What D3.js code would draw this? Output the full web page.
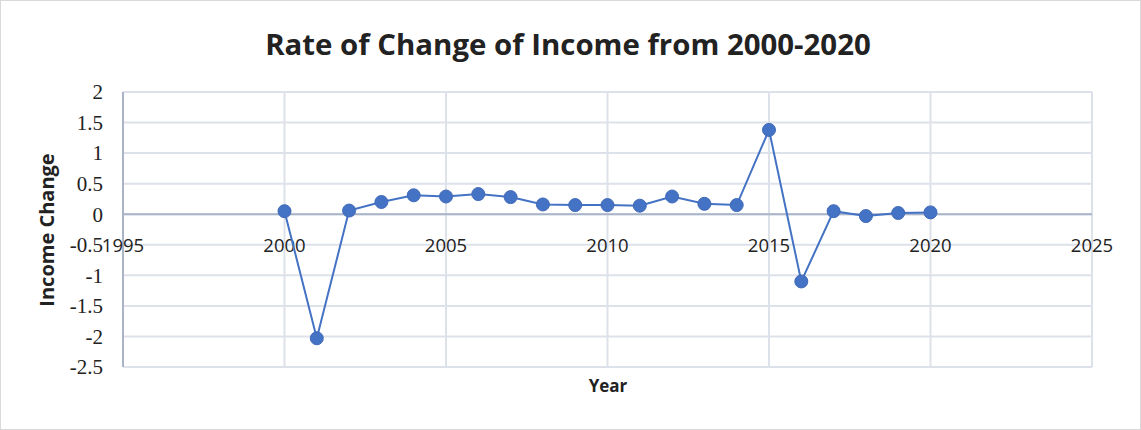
<!DOCTYPE html>
<html><head><meta charset="utf-8">
<script src="https://cdn.jsdelivr.net/npm/d3@7"></script>
<style>body{margin:0;background:#fff}svg{display:block}</style>
</head><body>
<svg id="c" width="1141" height="430"></svg>
<script>
const years = [2000,2001,2002,2003,2004,2005,2006,2007,2008,2009,2010,2011,2012,2013,2014,2015,2016,2017,2018,2019,2020];
const changes = [0.05,-2.03,0.06,0.20,0.31,0.29,0.33,0.28,0.16,0.15,0.15,0.14,0.29,0.17,0.15,1.38,-1.10,0.05,-0.03,0.02,0.03];
const xTicks = [1995,2000,2005,2010,2015,2020,2025];
const yTicks = [2,1.5,1,0.5,0,-0.5,-1,-1.5,-2,-2.5];
const title = "Rate of Change of Income from 2000-2020";
const xTitle = "Year", yTitle = "Income Change";

const svg = d3.select("#c");
svg.append("rect").attr("x",0.5).attr("y",0.5).attr("width",1140).attr("height",429)
  .attr("fill","#fff").attr("stroke","#d9d9d9");

const L=123, R=1092, T=92, B=367;
const x = d3.scaleLinear().domain([1995,2025]).range([L,R]);
const y = d3.scaleLinear().domain([-2.5,2]).range([B,T]);

// grid
svg.append("g").selectAll("line").data(yTicks).join("line")
  .attr("x1",L).attr("x2",R).attr("y1",d=>y(d)).attr("y2",d=>y(d))
  .attr("stroke","#dde1e9").attr("stroke-width",2);
svg.append("g").selectAll("line").data(xTicks).join("line")
  .attr("x1",d=>x(d)).attr("x2",d=>x(d)).attr("y1",T).attr("y2",B)
  .attr("stroke","#dde1e9").attr("stroke-width",2);
// axes lines
svg.append("line").attr("x1",L).attr("x2",L).attr("y1",T).attr("y2",B).attr("stroke","#a9b4c9").attr("stroke-width",2);
svg.append("line").attr("x1",L).attr("x2",R).attr("y1",y(0)).attr("y2",y(0)).attr("stroke","#a9b4c9").attr("stroke-width",2);

// y tick labels
svg.append("g").selectAll("text").data(yTicks).join("text")
  .attr("x",103).attr("y",d=>y(d)).attr("dy","0.35em").attr("text-anchor","end")
  .attr("font-family","Liberation Serif, serif").attr("font-size",21).attr("fill","#222")
  .text(d=>String(d));
// x tick labels at zero line
svg.append("g").selectAll("text").data(xTicks).join("text")
  .attr("x",d=>x(d)).attr("y",y(0)+38).attr("text-anchor","middle")
  .attr("font-family","Open Sans, sans-serif").attr("font-size",18.5).attr("fill","#222")
  .text(d=>d);

// line
const data = years.map((yr,i)=>({yr, v:changes[i]}));
svg.append("path").datum(data)
  .attr("fill","none").attr("stroke","#4472c4").attr("stroke-width",2)
  .attr("d", d3.line().x(d=>x(d.yr)).y(d=>y(d.v)));
svg.append("g").selectAll("circle").data(data).join("circle")
  .attr("cx",d=>x(d.yr)).attr("cy",d=>y(d.v)).attr("r",6.5)
  .attr("fill","#4472c4").attr("stroke","#4169b8").attr("stroke-width",1);

// titles
svg.append("text").attr("x",568).attr("y",55).attr("text-anchor","middle")
  .attr("font-family","Open Sans, sans-serif").attr("font-weight","bold").attr("font-size",29.4).attr("fill","#222")
  .text(title);
svg.append("text").attr("x",608).attr("y",392).attr("text-anchor","middle")
  .attr("font-family","Open Sans, sans-serif").attr("font-weight","bold").attr("font-size",17).attr("fill","#222")
  .text(xTitle);
svg.append("text").attr("transform","translate(54,230) rotate(-90)").attr("text-anchor","middle")
  .attr("font-family","Open Sans, sans-serif").attr("font-weight","bold").attr("font-size",20).attr("fill","#222")
  .text(yTitle);
</script>
</body></html>
